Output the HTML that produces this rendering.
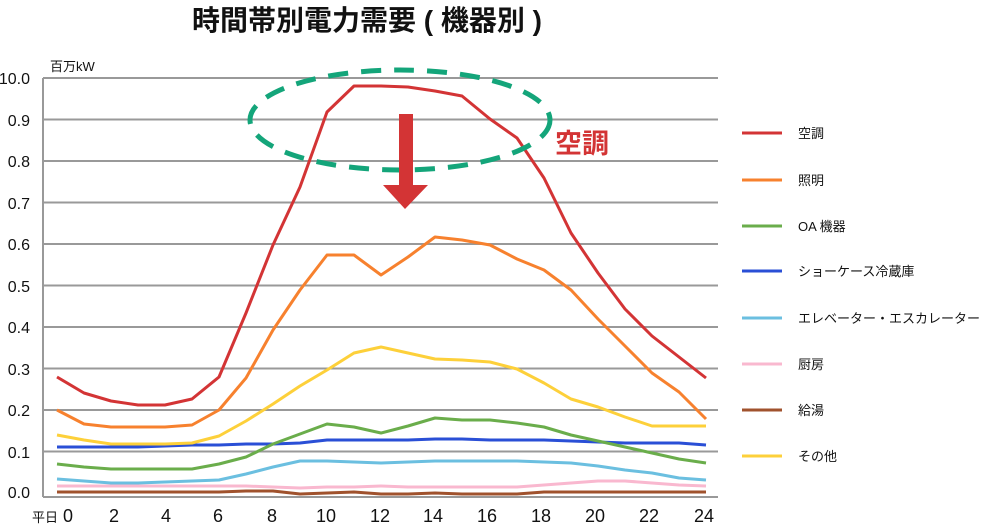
<!DOCTYPE html><html><head><meta charset="utf-8"><style>body{margin:0;background:#fff}svg{display:block}text{font-family:"Liberation Sans","Noto Sans CJK JP",sans-serif}</style></head><body>
<svg width="1000" height="524" viewBox="0 0 1000 524">
<text x="367" y="30" font-size="28" font-weight="bold" text-anchor="middle" fill="#111">時間帯別電力需要 ( 機器別 )</text>
<text x="50" y="71" font-size="13" fill="#111">百万kW</text>
<g stroke="#999" stroke-width="2">
<line x1="43" y1="78" x2="718" y2="78"/><line x1="43" y1="119.5" x2="718" y2="119.5"/><line x1="43" y1="161" x2="718" y2="161"/><line x1="43" y1="202.5" x2="718" y2="202.5"/><line x1="43" y1="244" x2="718" y2="244"/><line x1="43" y1="285.5" x2="718" y2="285.5"/><line x1="43" y1="327" x2="718" y2="327"/><line x1="43" y1="368.5" x2="718" y2="368.5"/><line x1="43" y1="410" x2="718" y2="410"/><line x1="43" y1="451.5" x2="718" y2="451.5"/><line x1="43" y1="497" x2="718" y2="497"/><line x1="43" y1="78" x2="43" y2="497"/></g>
<g font-size="16" fill="#111" text-anchor="end">
<text x="30" y="84">10.0</text><text x="30" y="126">0.9</text><text x="30" y="167">0.8</text><text x="30" y="209">0.7</text><text x="30" y="250">0.6</text><text x="30" y="292">0.5</text><text x="30" y="333">0.4</text><text x="30" y="375">0.3</text><text x="30" y="416">0.2</text><text x="30" y="458">0.1</text><text x="30" y="498">0.0</text></g>
<g font-size="18" fill="#111" text-anchor="middle">
<text x="45" y="522" font-size="13">平日</text><text x="68" y="522">0</text><text x="114" y="522">2</text><text x="166" y="522">4</text><text x="218" y="522">6</text><text x="272" y="522">8</text><text x="326" y="522">10</text><text x="380" y="522">12</text><text x="433" y="522">14</text><text x="487" y="522">16</text><text x="541" y="522">18</text><text x="595" y="522">20</text><text x="649" y="522">22</text><text x="704" y="522">24</text></g>
<g fill="none" stroke-width="3" stroke-linejoin="round">
<polyline stroke="#a0522d" points="57,492 84,492 111,492 138,492 165,492 192,492 219,492 246,491 273,491 300,494 327,493 354,492 381,494 408,494 435,493 462,494 490,494 517,494 544,492 571,492 598,492 625,492 652,492 679,492 706,492"/>
<polyline stroke="#f9b8cf" points="57,486 84,486 111,486 138,486 165,486 192,486 219,486 246,486 273,487 300,488 327,487 354,487 381,486 408,487 435,487 462,487 490,487 517,487 544,485 571,483 598,481 625,481 652,483 679,485 706,486"/>
<polyline stroke="#6bbfe0" points="57,479 84,481 111,483 138,483 165,482 192,481 219,480 246,474 273,467 300,461 327,461 354,462 381,463 408,462 435,461 462,461 490,461 517,461 544,462 571,463 598,466 625,470 652,473 679,478 706,480"/>
<polyline stroke="#2a4fd6" points="57,447 84,447 111,447 138,447 165,446 192,445 219,445 246,444 273,444 300,443 327,440 354,440 381,440 408,440 435,439 462,439 490,440 517,440 544,440 571,441 598,442 625,443 652,443 679,443 706,445"/>
<polyline stroke="#6aad4b" points="57,464 84,467 111,469 138,469 165,469 192,469 219,464 246,457 273,444 300,434 327,424 354,427 381,433 408,426 435,418 462,420 490,420 517,423 544,427 571,435 598,441 625,447 652,453 679,459 706,463"/>
<polyline stroke="#fdd03a" points="57,435 84,440 111,444 138,444 165,444 192,443 219,436 246,421 273,404 300,386 327,370 354,353 381,347 408,353 435,359 462,360 490,362 517,369 544,383 571,399 598,407 625,417 652,426 679,426 706,426"/>
<polyline stroke="#f7812e" points="57,410 84,424 111,427 138,427 165,427 192,425 219,410 246,378 273,330 300,290 327,255 354,255 381,275 408,257 435,237 462,240 490,245 517,259 544,270 571,290 598,319 625,346 652,373 679,392 706,419"/>
<polyline stroke="#d33435" points="57,377 84,393 111,401 138,405 165,405 192,399 219,377 246,313 273,245 300,187 327,112 354,86 381,86 408,87 435,91 462,96 490,119 517,138 544,178 571,233 598,273 625,309 652,336 679,357 706,378"/>
</g>
<ellipse cx="400" cy="120" rx="150" ry="50" fill="none" stroke="#14a57a" stroke-width="5" stroke-dasharray="20 13"/>
<rect x="399" y="114" width="14" height="72" fill="#d33435"/>
<polygon points="383,185 428,185 405,209" fill="#d33435"/>
<text x="555" y="153" font-size="27" font-weight="bold" fill="#d33435">空調</text>
<g stroke-width="3">
<line x1="742" y1="133" x2="782" y2="133" stroke="#d33435"/><line x1="742" y1="180" x2="782" y2="180" stroke="#f7812e"/><line x1="742" y1="226" x2="782" y2="226" stroke="#6aad4b"/><line x1="742" y1="271" x2="782" y2="271" stroke="#2a4fd6"/><line x1="742" y1="318" x2="782" y2="318" stroke="#6bbfe0"/><line x1="742" y1="364" x2="782" y2="364" stroke="#f9b8cf"/><line x1="742" y1="410" x2="782" y2="410" stroke="#a0522d"/><line x1="742" y1="456" x2="782" y2="456" stroke="#fdd03a"/></g>
<g font-size="13" fill="#111">
<text x="798" y="138">空調</text><text x="798" y="185">照明</text><text x="798" y="231">OA 機器</text><text x="798" y="276">ショーケース冷蔵庫</text><text x="798" y="323">エレベーター・エスカレーター</text><text x="798" y="369">厨房</text><text x="798" y="415">給湯</text><text x="798" y="461">その他</text></g>
</svg></body></html>
